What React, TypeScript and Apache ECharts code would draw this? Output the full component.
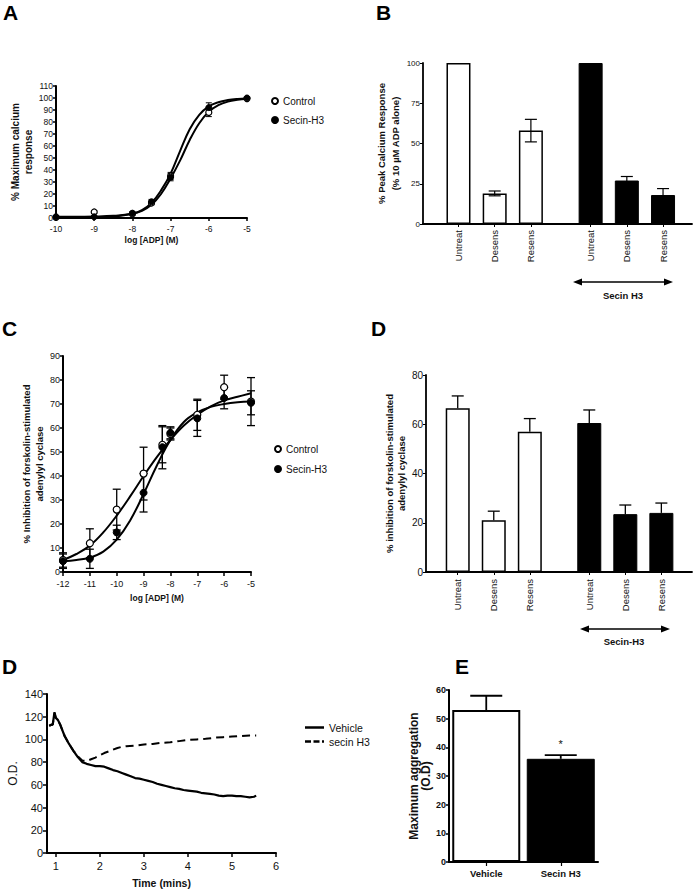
import React, { useEffect, useRef } from "react";
import * as echarts from "echarts";

const FONT = '"Liberation Sans", Arial, Helvetica, sans-serif';
const NARROW = '"Liberation Sans Narrow", "Arial Narrow", "Liberation Sans", Arial, sans-serif';
const INK = "#111";

// ---------- Panel A : calcium concentration-response ----------
const aDoses = [-10, -9, -8, -7.5, -7, -6, -5];
const aControl = [0.5, 5, 3.5, 12.5, 35, 88, 99.5];
const aControlErr = [0.5, 1, 1.5, 1.5, 3, 3.5, 0.5];
const aSecin = [1, 1, 4, 13.5, 34, 92, 100];
const aSecinErr = [0.5, 0.5, 1, 2, 3, 4, 0.5];
const aCurveX = [-10, -9.5, -9, -8.5, -8, -7.75, -7.5, -7.25, -7, -6.75, -6.5, -6.25, -6, -5.75, -5.5, -5.25, -5];
const aCurveControl = [1, 1, 1.2, 1.8, 3.5, 6, 11, 20, 33, 48, 65, 79, 88.5, 94, 97, 98.5, 99.3];
const aCurveSecin = [0.3, 0.3, 0.5, 1.2, 3.5, 6.5, 12.5, 23, 37, 56, 74, 86, 93, 96.5, 98.3, 99.2, 99.6];

// ---------- Panel B : peak calcium response ----------
const bLabels = ["Untreat", "Desens", "Resens"];
const bControl = [100, 19, 58];
const bControlErr = [0, 1.5, 7];
const bSecin = [100, 27, 18];
const bSecinErr = [0, 2.5, 4];

// ---------- Panel C : adenylyl cyclase concentration-response ----------
const cDoses = [-12, -11, -10, -9, -8.3, -8, -7, -6, -5];
const cControl = [5, 12, 26, 41, 53, 57.5, 65.5, 77, 71];
const cControlErr = [3, 6, 8.5, 11, 7.5, 2.5, 6.5, 5, 10];
const cSecin = [4.5, 5.5, 16.5, 33, 52, 58, 64, 72.5, 70.5];
const cSecinErr = [3, 4, 3, 8, 9, 2.5, 7.5, 4.5, 5];
const cCurveX = [-12, -11.5, -11, -10.5, -10, -9.5, -9, -8.5, -8, -7.5, -7, -6.5, -6, -5.5, -5];
const cCurveControl = [5, 7.5, 11, 16.5, 23.5, 31.5, 40, 48, 55, 61, 65.5, 69, 71.5, 73, 74.5];
const cCurveSecin = [4.5, 5, 6, 8.5, 13.5, 21.5, 32.5, 44.5, 55, 62.5, 66.5, 68.8, 70, 70.7, 71];

// ---------- Panel D (top) : inhibition bars ----------
const dLabels = ["Untreat", "Desens", "Resens"];
const dControl = [66.5, 21, 57];
const dControlErr = [5, 3.7, 5.3];
const dSecin = [60.5, 23.5, 24];
const dSecinErr = [5.3, 3.7, 4];

// ---------- Panel D (bottom) : aggregation traces ----------
const vehTime = [0.85, 0.9, 0.93, 0.97, 1.0, 1.05, 1.1, 1.15, 1.2, 1.3, 1.4, 1.5, 1.6, 1.7, 1.8, 1.9, 2.0, 2.1, 2.2, 2.3, 2.4, 2.5, 2.6, 2.7, 2.8, 2.9, 3.0, 3.1, 3.2, 3.3, 3.4, 3.5, 3.6, 3.7, 3.8, 3.9, 4.0, 4.1, 4.2, 4.3, 4.4, 4.5, 4.6, 4.7, 4.8, 4.9, 5.0, 5.1, 5.2, 5.3, 5.4, 5.5, 5.55];
const vehOD = [112, 113, 113, 124, 119, 117, 113, 108, 103, 96, 90, 84.5, 80, 78.5, 77.5, 76.5, 76.5, 76, 74.5, 73, 72, 70.5, 69, 67.5, 66, 65.5, 64.5, 63.5, 62.5, 61, 60, 59, 58, 57, 56.5, 55.5, 55, 54.5, 54, 53, 52.5, 52, 51.5, 50.5, 50, 50.5, 50.5, 50, 50, 49.5, 49, 49.5, 50.5];
const secTime = [0.85, 0.9, 0.93, 0.97, 1.0, 1.05, 1.1, 1.15, 1.2, 1.3, 1.4, 1.5, 1.6, 1.7, 1.8, 1.9, 2.0, 2.1, 2.2, 2.3, 2.4, 2.5, 2.6, 2.8, 3.0, 3.2, 3.4, 3.6, 3.8, 4.0, 4.2, 4.4, 4.6, 4.8, 5.0, 5.2, 5.4, 5.55];
const secOD = [112, 113, 113, 123, 119, 117, 113, 108, 103, 96, 90, 85, 81.5, 81, 82.5, 84, 86, 88, 89.5, 91, 92.5, 93.5, 94, 94.5, 95.5, 96, 97, 97.5, 98.5, 99.5, 100, 100.5, 101.5, 102, 102.5, 103, 103.5, 103.5];
const timeTicks = [1, 2, 3, 4, 5, 6];

// ---------- Panel E : maximum aggregation ----------
const eLabels = ["Vehicle", "Secin H3"];
const eValues = [53, 36];
const eErr = [5, 1.3];
const eSig = ["", "*"];

function errSeries(xi: number, yi: number, pts: number[][], capW: number, both: boolean, lw = 1.2) {
  return {
    type: "custom",
    xAxisIndex: xi,
    yAxisIndex: yi,
    z: 4,
    silent: true,
    data: pts,
    renderItem: (_p: any, api: any) => {
      const x = api.value(0);
      const y = api.value(1);
      const e = api.value(2);
      if (!e) return { type: "group", children: [] };
      const top = api.coord([x, y + e]);
      const bot = api.coord([x, both ? y - e : y]);
      const h = capW / 2;
      const style = { stroke: "#000", lineWidth: lw };
      const children: any[] = [
        { type: "line", shape: { x1: top[0], y1: top[1], x2: bot[0], y2: bot[1] }, style },
        { type: "line", shape: { x1: top[0] - h, y1: top[1], x2: top[0] + h, y2: top[1] }, style },
      ];
      if (both) children.push({ type: "line", shape: { x1: bot[0] - h, y1: bot[1], x2: bot[0] + h, y2: bot[1] }, style });
      return { type: "group", children };
    },
  };
}

const zip = (xs: number[], ys: number[]) => xs.map((x, i) => [x, ys[i]]);
const zip3 = (xs: number[], ys: number[], es: number[]) => xs.map((x, i) => [x, ys[i], es[i]]);

const axisLineStyle = (w = 2) => ({ show: true, lineStyle: { color: "#000", width: w } });
const tickStyle = (len = 4, w = 1.5) => ({ show: true, length: len, lineStyle: { color: "#000", width: w } });
const labelStyle = (size: number, margin: number, family = FONT) => ({
  fontSize: size,
  color: INK,
  fontFamily: family,
  margin,
});
const nameStyleY = (size: number, lh: number, family = FONT) => ({
  fontSize: size,
  fontWeight: "bold",
  fontFamily: family,
  color: INK,
  lineHeight: lh,
  align: "center",
  verticalAlign: "middle",
});

const GROUP_SHIFT = 3.65;

function arrow(x1: number, x2: number, y: number) {
  const hl = 9;
  const hw = 3.5;
  return [
    { type: "line", shape: { x1: x1 + 4, y1: y, x2: x2 - 4, y2: y }, style: { stroke: "#000", lineWidth: 1.6 } },
    { type: "polygon", shape: { points: [[x1, y], [x1 + hl, y - hw], [x1 + hl, y + hw]] }, style: { fill: "#000" } },
    { type: "polygon", shape: { points: [[x2, y], [x2 - hl, y - hw], [x2 - hl, y + hw]] }, style: { fill: "#000" } },
  ];
}

function letter(t: string, x: number, y: number) {
  return {
    type: "text",
    x,
    y,
    style: { text: t, font: `bold 21px ${FONT}`, fill: "#000", align: "left", verticalAlign: "top" },
  };
}

function buildOption(): any {
  const bData = [
    ...bControl.map((v, i) => ({ value: [i + 1, v], itemStyle: { color: "#fff", borderColor: "#000", borderWidth: 1.5 } })),
    ...bSecin.map((v, i) => ({ value: [i + 1 + GROUP_SHIFT, v], itemStyle: { color: "#000", borderColor: "#000", borderWidth: 1 } })),
  ];
  const bErr = [
    ...bControl.map((v, i) => [i + 1, v, bControlErr[i]]),
    ...bSecin.map((v, i) => [i + 1 + GROUP_SHIFT, v, bSecinErr[i]]),
  ];
  const bPos = [...bLabels.map((_, i) => i + 1), ...bLabels.map((_, i) => i + 1 + GROUP_SHIFT)];
  const bNames = [...bLabels, ...bLabels];

  const dData = [
    ...dControl.map((v, i) => ({ value: [i + 1, v], itemStyle: { color: "#fff", borderColor: "#000", borderWidth: 1.5 } })),
    ...dSecin.map((v, i) => ({ value: [i + 1 + GROUP_SHIFT, v], itemStyle: { color: "#000", borderColor: "#000", borderWidth: 1 } })),
  ];
  const dErr = [
    ...dControl.map((v, i) => [i + 1, v, dControlErr[i]]),
    ...dSecin.map((v, i) => [i + 1 + GROUP_SHIFT, v, dSecinErr[i]]),
  ];
  const dPos = [...dLabels.map((_, i) => i + 1), ...dLabels.map((_, i) => i + 1 + GROUP_SHIFT)];
  const dNames = [...dLabels, ...dLabels];

  const nameOf = (pos: number[], names: string[]) => (v: number) => {
    let best = 0;
    pos.forEach((p, i) => {
      if (Math.abs(p - v) < Math.abs(pos[best] - v)) best = i;
    });
    return names[best];
  };

  const grid = [
    { left: 56, top: 86, width: 191, height: 132 },
    { left: 423, top: 63, width: 269, height: 161 },
    { left: 63, top: 356, width: 188, height: 216 },
    { left: 426, top: 375, width: 266, height: 197 },
    { left: 47, top: 694, width: 229, height: 159 },
    { left: 449, top: 690, width: 149, height: 172 },
  ].map((g) => ({ ...g, containLabel: false, outerBoundsMode: "none" }));

  const xAxis: any[] = [
    {
      gridIndex: 0, type: "value", min: -10, max: -5, interval: 1,
      axisLine: axisLineStyle(2), axisTick: tickStyle(3), splitLine: { show: false },
      axisLabel: labelStyle(8.5, 6),
      name: "log [ADP] (M)", nameLocation: "middle", nameGap: 22,
      nameTextStyle: { fontSize: 8.5, fontWeight: "bold", fontFamily: FONT, color: INK, verticalAlign: "middle" },
    },
    {
      gridIndex: 1, type: "value", min: 0.02, max: 7.45,
      axisLine: axisLineStyle(1.8),
      axisTick: { ...tickStyle(3, 1), customValues: bPos },
      splitLine: { show: false },
      axisLabel: { ...labelStyle(9.5, 6), rotate: 90, customValues: bPos, formatter: nameOf(bPos, bNames) },
    },
    {
      gridIndex: 2, type: "value", min: -12, max: -5, interval: 1,
      axisLine: axisLineStyle(2), axisTick: tickStyle(4), splitLine: { show: false },
      axisLabel: labelStyle(9, 7),
      name: "log [ADP] (M)", nameLocation: "middle", nameGap: 26,
      nameTextStyle: { fontSize: 8.5, fontWeight: "bold", fontFamily: FONT, color: INK, verticalAlign: "middle" },
    },
    {
      gridIndex: 3, type: "value", min: 0.12, max: 7.5,
      axisLine: axisLineStyle(1.8),
      axisTick: { ...tickStyle(3, 1), customValues: dPos },
      splitLine: { show: false },
      axisLabel: { ...labelStyle(9.5, 7), rotate: 90, customValues: dPos, formatter: nameOf(dPos, dNames) },
    },
    {
      gridIndex: 4, type: "value", min: 0.8, max: 6,
      axisLine: axisLineStyle(2),
      axisTick: { ...tickStyle(4, 1.5), customValues: timeTicks },
      splitLine: { show: false },
      axisLabel: { ...labelStyle(11, 7), customValues: timeTicks },
      name: "Time (mins)", nameLocation: "middle", nameGap: 30,
      nameTextStyle: { fontSize: 10.5, fontWeight: "bold", fontFamily: FONT, color: INK, verticalAlign: "middle" },
    },
    {
      gridIndex: 5, type: "category", data: eLabels,
      axisLine: axisLineStyle(2), axisTick: { ...tickStyle(4, 1.2), alignWithLabel: true },
      axisLabel: { ...labelStyle(9.5, 6, NARROW), fontWeight: "bold" },
    },
  ];

  const yAxis: any[] = [
    {
      gridIndex: 0, type: "value", min: 0, max: 110, interval: 10,
      axisLine: axisLineStyle(2), axisTick: tickStyle(3), splitLine: { show: false },
      axisLabel: labelStyle(8.5, 3),
      name: "% Maximum calcium\nresponse", nameLocation: "middle", nameRotate: 90, nameGap: 34,
      nameTextStyle: nameStyleY(10, 13),
    },
    {
      gridIndex: 1, type: "value", min: 0, max: 100, interval: 25,
      axisLine: axisLineStyle(1.8), axisTick: tickStyle(3, 1), splitLine: { show: false },
      axisLabel: labelStyle(8, 3),
      name: "% Peak Calcium Response\n(% 10 µM ADP alone)", nameLocation: "middle", nameRotate: 90, nameGap: 28,
      nameTextStyle: nameStyleY(9.5, 14),
    },
    {
      gridIndex: 2, type: "value", min: 0, max: 90, interval: 10,
      axisLine: axisLineStyle(2), axisTick: tickStyle(3), splitLine: { show: false },
      axisLabel: labelStyle(9, 3),
      name: "% Inhibition of forskolin-stimulated\nadenylyl cyclase", nameLocation: "middle", nameRotate: 90, nameGap: 27,
      nameTextStyle: nameStyleY(9.5, 13),
    },
    {
      gridIndex: 3, type: "value", min: 0, max: 80, interval: 20,
      axisLine: axisLineStyle(1.8), axisTick: tickStyle(3, 1), splitLine: { show: false },
      axisLabel: labelStyle(10, 3),
      name: "% inhibition of forskolin-stimulated\nadenylyl cyclase", nameLocation: "middle", nameRotate: 90, nameGap: 29,
      nameTextStyle: nameStyleY(9.5, 12),
    },
    {
      gridIndex: 4, type: "value", min: 0, max: 140, interval: 20,
      axisLine: axisLineStyle(2), axisTick: tickStyle(4), splitLine: { show: false },
      axisLabel: labelStyle(11, 4),
      name: "O.D.", nameLocation: "middle", nameRotate: 90, nameGap: 34,
      nameTextStyle: { fontSize: 12, fontFamily: FONT, color: INK, align: "center", verticalAlign: "middle" },
    },
    {
      gridIndex: 5, type: "value", min: 0, max: 60, interval: 10,
      axisLine: axisLineStyle(2), axisTick: tickStyle(3), splitLine: { show: false },
      axisLabel: { ...labelStyle(9, 3, NARROW), fontWeight: "bold" },
      name: "Maximum aggregation\n(O.D)", nameLocation: "middle", nameRotate: 90, nameGap: 24,
      nameTextStyle: nameStyleY(12, 12),
    },
  ];

  const openSym = { color: "#fff", borderColor: "#000", borderWidth: 1.2, opacity: 1 };
  const fillSym = { color: "#000", borderColor: "#000", borderWidth: 1, opacity: 1 };

  const series: any[] = [
    // A
    { name: "Control fit A", type: "line", xAxisIndex: 0, yAxisIndex: 0, data: zip(aCurveX, aCurveControl), smooth: 0.4, symbol: "none", lineStyle: { color: "#000", width: 2 }, z: 2 },
    { name: "Secin fit A", type: "line", xAxisIndex: 0, yAxisIndex: 0, data: zip(aCurveX, aCurveSecin), smooth: 0.4, symbol: "none", lineStyle: { color: "#000", width: 2 }, z: 2 },
    errSeries(0, 0, zip3(aDoses, aControl, aControlErr), 6, true, 1),
    errSeries(0, 0, zip3(aDoses, aSecin, aSecinErr), 6, true, 1),
    { name: "Control", type: "scatter", xAxisIndex: 0, yAxisIndex: 0, data: zip(aDoses, aControl), symbol: "circle", symbolSize: 6, itemStyle: openSym, z: 6 },
    { name: "Secin-H3", type: "scatter", xAxisIndex: 0, yAxisIndex: 0, data: zip(aDoses, aSecin), symbol: "circle", symbolSize: 6, itemStyle: fillSym, z: 6 },
    // B
    { name: "Peak calcium", type: "bar", xAxisIndex: 1, yAxisIndex: 1, data: bData, barWidth: 24, z: 2 },
    errSeries(1, 1, bErr, 12, true, 1.2),
    // C
    { name: "Control fit C", type: "line", xAxisIndex: 2, yAxisIndex: 2, data: zip(cCurveX, cCurveControl), smooth: 0.4, symbol: "none", lineStyle: { color: "#000", width: 2 }, z: 2 },
    { name: "Secin fit C", type: "line", xAxisIndex: 2, yAxisIndex: 2, data: zip(cCurveX, cCurveSecin), smooth: 0.4, symbol: "none", lineStyle: { color: "#000", width: 2 }, z: 2 },
    errSeries(2, 2, zip3(cDoses, cControl, cControlErr), 8, true, 1.3),
    errSeries(2, 2, zip3(cDoses, cSecin, cSecinErr), 8, true, 1.3),
    { name: "Control", type: "scatter", xAxisIndex: 2, yAxisIndex: 2, data: zip(cDoses, cControl), symbol: "circle", symbolSize: 7, itemStyle: openSym, z: 6 },
    { name: "Secin-H3", type: "scatter", xAxisIndex: 2, yAxisIndex: 2, data: zip(cDoses, cSecin), symbol: "circle", symbolSize: 7, itemStyle: fillSym, z: 6 },
    // D top
    { name: "Inhibition", type: "bar", xAxisIndex: 3, yAxisIndex: 3, data: dData, barWidth: 24, z: 2 },
    errSeries(3, 3, dErr, 12, false, 1.3),
    // D bottom
    { name: "Vehicle", type: "line", xAxisIndex: 4, yAxisIndex: 4, data: zip(vehTime, vehOD), symbol: "none", itemStyle: { color: "#000" }, lineStyle: { color: "#000", width: 2.2 }, z: 3 },
    { name: "secin H3", type: "line", xAxisIndex: 4, yAxisIndex: 4, data: zip(secTime, secOD), symbol: "none", itemStyle: { color: "#000" }, lineStyle: { color: "#000", width: 2, type: [8, 5] }, z: 3 },
    // E
    {
      name: "Max aggregation", type: "bar", xAxisIndex: 5, yAxisIndex: 5, barWidth: 68, z: 2,
      data: eValues.map((v, i) => ({
        value: v,
        itemStyle: i === 0 ? { color: "#fff", borderColor: "#000", borderWidth: 2 } : { color: "#000", borderColor: "#000", borderWidth: 1 },
        label: { show: eSig[i] !== "", formatter: eSig[i], position: "top", distance: 9, fontSize: 11, color: INK, fontFamily: FONT },
      })),
    },
    errSeries(5, 5, eValues.map((v, i) => [i, v, eErr[i]]), 32, false, 1.8),
  ];

  const legendCommon = {
    orient: "vertical",
    selectedMode: false,
    textStyle: { fontSize: 10, fontFamily: FONT, color: INK },
  };

  const legend = [
    { ...legendCommon, left: 266, top: 91, itemWidth: 6, itemHeight: 6, itemGap: 9, data: ["Control", "Secin-H3"] },
    { ...legendCommon, left: 269, top: 439, itemWidth: 6, itemHeight: 6, itemGap: 10, data: ["Control", "Secin-H3"] },
    {
      ...legendCommon, left: 300, top: 717, itemWidth: 19, itemHeight: 2.5, itemGap: 3,
      data: [
        { name: "Vehicle", icon: "rect" },
        { name: "secin H3", icon: "path://M0,0H6V2.5H0ZM8.5,0H14.5V2.5H8.5ZM17,0H19V2.5H17Z" },
      ],
      textStyle: { fontSize: 10.5, fontFamily: FONT, color: INK },
    },
  ];

  const graphic = [
    letter("A", 3, 2),
    letter("B", 376, 2),
    letter("C", 2, 318),
    letter("D", 371, 318),
    letter("D", 2, 656),
    letter("E", 455, 656),
    ...arrow(573, 673, 282),
    { type: "text", x: 623, y: 295, style: { text: "Secin H3", font: `bold 9.5px ${NARROW}`, fill: INK, align: "center", verticalAlign: "middle" } },
    ...arrow(580, 670, 629),
    { type: "text", x: 624, y: 641, style: { text: "Secin-H3", font: `bold 9.5px ${FONT}`, fill: INK, align: "center", verticalAlign: "middle" } },
  ];

  return { animation: false, backgroundColor: "#fff", grid, xAxis, yAxis, series, legend, graphic };
}

export default function App() {
  const ref = useRef<HTMLDivElement>(null);
  useEffect(() => {
    if (!ref.current) return;
    const chart = echarts.init(ref.current, null, { renderer: "svg" });
    chart.setOption(buildOption());
    return () => chart.dispose();
  }, []);
  return <div ref={ref} style={{ position: "absolute", left: 0, top: 0, width: 697, height: 894, background: "#fff" }} />;
}
